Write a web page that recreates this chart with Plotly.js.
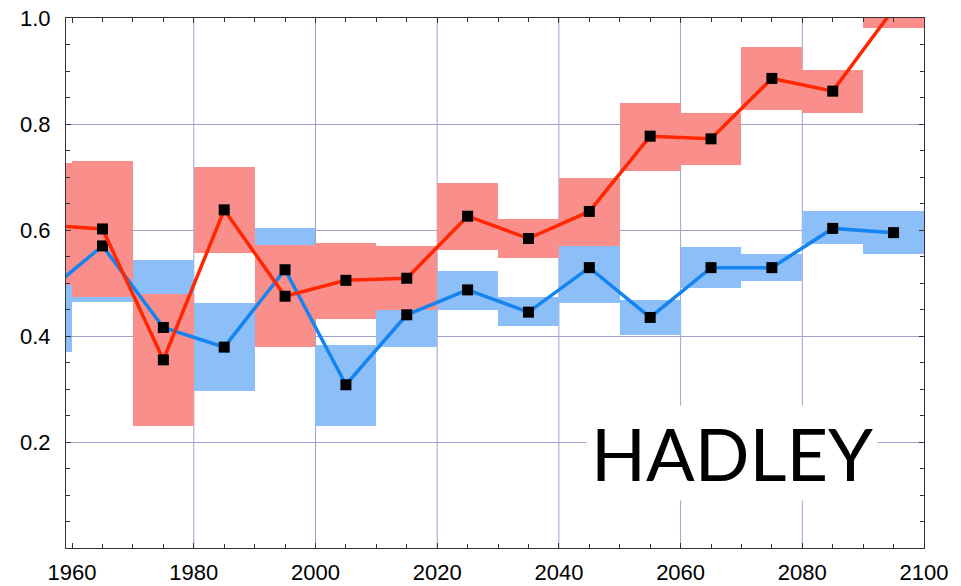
<!DOCTYPE html>
<html>
<head>
<meta charset="utf-8">
<script src="https://cdn.plot.ly/plotly-3.0.1.min.js"></script>
<style>html,body{margin:0;padding:0;background:#fff;}#chart{width:961px;height:586px;}</style>
</head>
<body>
<div id="chart"></div>
<script>
// decade centres
var years = [1955, 1965, 1975, 1985, 1995, 2005, 2015, 2025, 2035, 2045, 2055, 2065, 2075, 2085, 2095];
// red series (mean and range)
var redMean = [0.610, 0.602, 0.355, 0.638, 0.475, 0.505, 0.509, 0.626, 0.584, 0.635, 0.777, 0.772, 0.886, 0.862, 1.017];
var redLow  = [0.496, 0.473, 0.230, 0.556, 0.379, 0.433, 0.449, 0.562, 0.548, 0.570, 0.712, 0.723, 0.826, 0.820, 0.982];
var redHigh = [0.726, 0.731, 0.480, 0.719, 0.572, 0.575, 0.569, 0.689, 0.621, 0.699, 0.840, 0.820, 0.946, 0.902, 1.060];
// blue series (mean and range)
var blueMean = [0.475, 0.570, 0.416, 0.379, 0.525, 0.308, 0.440, 0.487, 0.445, 0.529, 0.435, 0.529, 0.529, 0.603, 0.595];
var blueLow  = [0.370, 0.465, 0.300, 0.297, 0.450, 0.231, 0.379, 0.450, 0.418, 0.463, 0.402, 0.490, 0.503, 0.573, 0.555];
var blueHigh = [0.580, 0.650, 0.543, 0.463, 0.603, 0.383, 0.500, 0.523, 0.474, 0.590, 0.468, 0.567, 0.555, 0.635, 0.635];
// axes
var xTicks = [1960, 1980, 2000, 2020, 2040, 2060, 2080, 2100];
var xGrid = [1980, 2000, 2020, 2040, 2060, 2080];
var yTicks = [0.2, 0.4, 0.6, 0.8, 1.0];
var yTickText = ['0.2', '0.4', '0.6', '0.8', '1.0'];
var label = 'HADLEY';

function diff(a, b) { return a.map(function (v, i) { return v - b[i]; }); }

var gridColor = 'rgb(160,160,208)';
var traces = [
  { type: 'bar', x: years, base: blueLow, y: diff(blueHigh, blueLow), width: 10,
    marker: { color: 'rgb(140,190,248)', line: { width: 0 } }, hoverinfo: 'skip' },
  { type: 'bar', x: years, base: redLow, y: diff(redHigh, redLow), width: 10,
    marker: { color: 'rgb(250,142,138)', line: { width: 0 } }, hoverinfo: 'skip' },
  { type: 'scatter', mode: 'lines+markers', x: years, y: blueMean,
    line: { color: 'rgb(20,132,240)', width: 3.5 },
    marker: { symbol: 'square', size: 11, color: '#000' } },
  { type: 'scatter', mode: 'lines+markers', x: years, y: redMean,
    line: { color: 'rgb(255,38,0)', width: 3.5 },
    marker: { symbol: 'square', size: 11, color: '#000' } }
];

var shapes = xGrid.map(function (g) {
  return { type: 'line', layer: 'below', xref: 'x', yref: 'paper', x0: g, x1: g, y0: 0, y1: 1,
           line: { color: gridColor, width: 1 } };
});

var tickFont = { family: 'Liberation Sans, Arial, sans-serif', size: 22, color: '#000' };

var layout = {
  width: 961, height: 586,
  margin: { l: 66, r: 37, t: 18, b: 38 },
  paper_bgcolor: '#fff', plot_bgcolor: '#fff',
  showlegend: false, barmode: 'overlay', bargap: 0,
  xaxis: {
    range: [1959, 2100], tickmode: 'array', tickvals: xTicks,
    ticks: 'inside', ticklen: 5, tickcolor: '#333', tickwidth: 1,
    showline: true, linecolor: '#333', linewidth: 1, mirror: 'allticks',
    showgrid: false, zeroline: false, tickfont: tickFont, ticklabelstandoff: 5,
    minor: { tickmode: 'linear', tick0: 1960, dtick: 5, ticks: 'inside', ticklen: 4, tickcolor: '#333', showgrid: false }
  },
  yaxis: {
    range: [0, 1], tickmode: 'array', tickvals: yTicks, ticktext: yTickText,
    ticks: 'inside', ticklen: 5, tickcolor: '#333', tickwidth: 1,
    showline: true, linecolor: '#333', linewidth: 1, mirror: 'allticks',
    showgrid: true, gridcolor: gridColor, gridwidth: 1, zeroline: false,
    tickfont: tickFont, ticklabelstandoff: 10,
    minor: { tickmode: 'linear', tick0: 0, dtick: 0.05, ticks: 'inside', ticklen: 4, tickcolor: '#333', showgrid: false }
  },
  shapes: shapes,
  annotations: [{
    text: label, xref: 'paper', yref: 'paper', x: 0.776, y: 0.179,
    xanchor: 'center', yanchor: 'middle', showarrow: false,
    font: { family: 'Lato, sans-serif', size: 72, color: '#000' },
    bgcolor: '#fff', borderpad: 4
  }]
};

Plotly.newPlot('chart', traces, layout, { staticPlot: true });
</script>
</body>
</html>
